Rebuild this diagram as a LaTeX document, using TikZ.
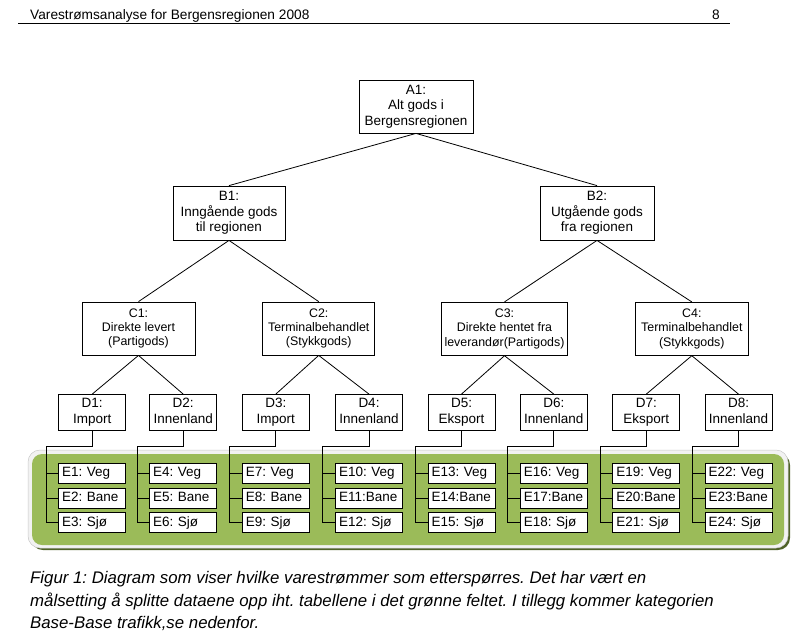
\documentclass[tikz,border=0pt]{standalone}
\usepackage{fontspec}
\setmainfont{Liberation Sans}
\usetikzlibrary{calc}
\definecolor{panelgreen}{HTML}{9BBB59}
\definecolor{panelshadow}{HTML}{4F6228}
\definecolor{panelrim}{HTML}{F2F2F2}
\definecolor{rimline}{HTML}{C8C8C8}
\frenchspacing
\begin{document}
\frenchspacing
\begin{tikzpicture}[x=1pt,y=-1pt,
  box/.style={draw=black,line width=0.8pt,fill=white,align=center,inner sep=0pt,font=\fontsize{13.5}{15.5}\selectfont\frenchspacing},
  bigbox/.style={box,minimum width=113pt,minimum height=54pt},
  cbox/.style={box,minimum width=113pt,minimum height=53pt,font=\fontsize{12.4}{14.3}\selectfont},
  dbox/.style={box,minimum width=67pt,minimum height=36pt,font=\fontsize{13.5}{16}\selectfont},
  ebox/.style={box,anchor=west,text width=60pt,inner xsep=3.5pt,inner ysep=0pt,text height=10pt,text depth=3pt,minimum height=20pt,align=left},
  link/.style={line width=0.8pt},
  capt/.style={anchor=base west,inner sep=0pt,font=\fontsize{16.8}{18}\selectfont\itshape\frenchspacing}]
\useasboundingbox (0,0) rectangle (802,638);
% header
\node[anchor=base west,inner sep=0pt,font=\fontsize{13.7}{16}\selectfont] (hdr) at (30,19) {Varestrømsanalyse for Bergensregionen 2008};
\node[anchor=base east,inner sep=0pt,font=\fontsize{13.7}{16}\selectfont] (pg) at (720,19) {8};
\draw[line width=0.9pt] (18,23) -- (730,23);
% green panel
\fill[panelshadow,rounded corners=12pt] (31,453) rectangle (790,550);
\filldraw[fill=panelrim,draw=rimline,line width=0.5pt,rounded corners=12pt] (28,450) rectangle (788,548);
\fill[panelgreen,rounded corners=10pt] (32,454) rectangle (784,545);
% tree
\node[bigbox,minimum width=114pt,minimum height=53pt] (A1) at (416,106.5) {A1:\\Alt gods i\\Bergensregionen};
\node[bigbox,minimum width=112pt] (B1) at (229,213) {B1:\\Inngående gods\\til regionen};
\node[bigbox,minimum width=114pt] (B2) at (597,213) {B2:\\Utgående gods\\fra regionen};
\node[cbox] (C1) at (138.5,328.5) {C1:\\Direkte levert\\(Partigods)};
\node[cbox,minimum width=112pt] (C2) at (318.7,328.5) {C2:\\Terminalbehandlet\\(Stykkgods)};
\node[cbox,minimum width=126pt] (C3) at (504.5,328.8) {C3:\\Direkte hentet fra\\leverandør(Partigods)};
\node[cbox] (C4) at (691.8,328.8) {C4:\\Terminalbehandlet\\(Stykkgods)};
\foreach \n/\x/\t in {1/92.2/Import,2/183.2/Innenland,3/275.8/Import,4/369/Innenland,5/461.5/Eksport,6/553.8/Innenland,7/646.3/Eksport,8/738.5/Innenland}{
  \node[dbox] (D\n) at (\x,412.5) {D\n:\\\t\vphantom{Ip}};
}
\draw[link] (A1.south) -- (B1.north);
\draw[link] (A1.south) -- (B2.north);
\draw[link] (B1.south) -- (C1.north);
\draw[link] (B1.south) -- (C2.north);
\draw[link] (B2.south) -- (C3.north);
\draw[link] (B2.south) -- (C4.north);
\draw[link] (C1.south) -- (D1.north);
\draw[link] (C1.south) -- (D2.north);
\draw[link] (C2.south) -- (D3.north);
\draw[link] (C2.south) -- (D4.north);
\draw[link] (C3.south) -- (D5.north);
\draw[link] (C3.south) -- (D6.north);
\draw[link] (C4.south) -- (D7.north);
\draw[link] (C4.south) -- (D8.north);
% E boxes
\foreach \d/\a/\b/\c in {1/E1: Veg/E2: Bane/E3: Sjø,
                          2/E4: Veg/E5: Bane/E6: Sjø,
                          3/E7: Veg/E8: Bane/E9: Sjø,
                          4/E10: Veg/E11:Bane/E12: Sjø,
                          5/E13: Veg/E14:Bane/E15: Sjø,
                          6/E16: Veg/E17:Bane/E18: Sjø,
                          7/E19: Veg/E20:Bane/E21: Sjø,
                          8/E22: Veg/E23:Bane/E24: Sjø}{
  \node[ebox] (Ea\d) at ($(D\d.west)+(0,60.8)$) {\a};
  \node[ebox] (Eb\d) at ($(D\d.west)+(0,85.5)$) {\b};
  \node[ebox] (Ec\d) at ($(D\d.west)+(0,110)$) {\c};
  \coordinate (S\d) at ($(D\d.west)+(-12.4,34.2)$);
  \draw[link] (D\d.south) |- (S\d) |- (Ec\d.west);
  \draw[link] (S\d) |- (Ea\d.west);
  \draw[link] (S\d) |- (Eb\d.west);
}
% caption
\node[capt] (cap1) at (30,583) {Figur 1: Diagram som viser hvilke varestrømmer som etterspørres. Det har vært en};
\node[capt] (cap2) at (30,606) {målsetting å splitte dataene opp iht. tabellene i det grønne feltet. I tillegg kommer kategorien};
\node[capt] (cap3) at (30,628) {Base-Base trafikk,se nedenfor.};
\end{tikzpicture}
\end{document}
